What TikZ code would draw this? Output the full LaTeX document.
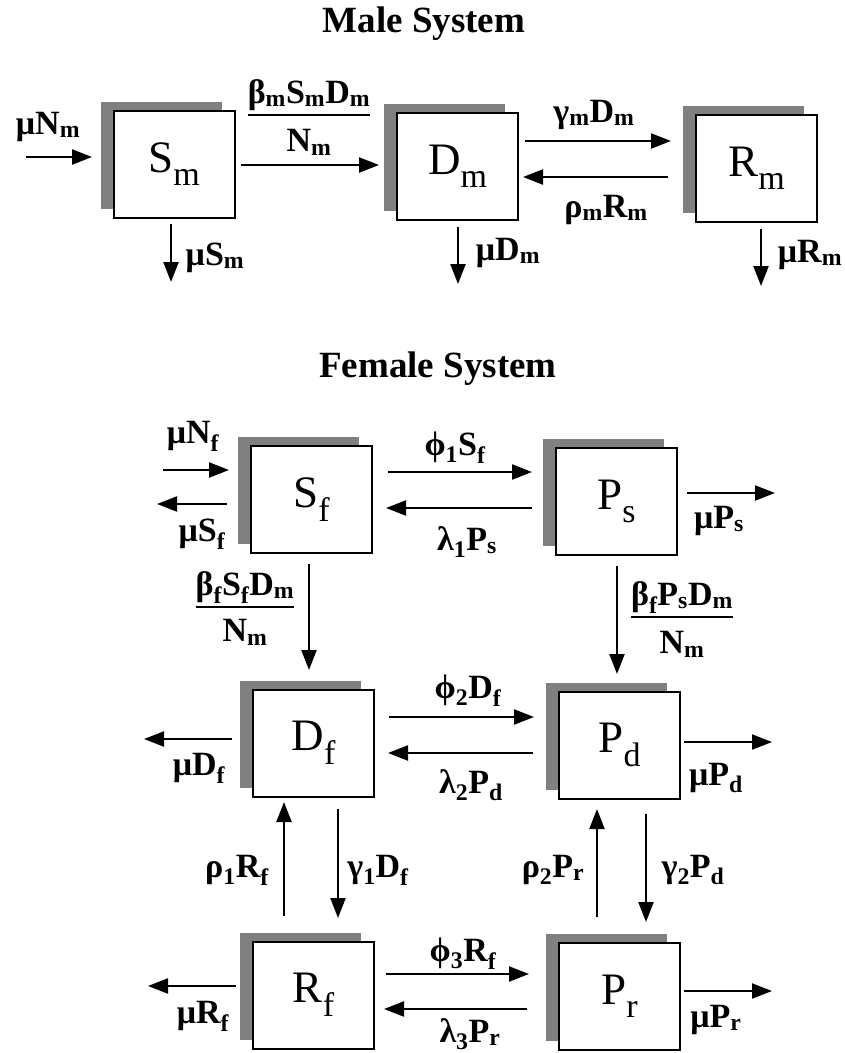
\documentclass[tikz,border=0pt]{standalone}
\usepackage{fontspec}
\setmainfont{Liberation Serif}
\usetikzlibrary{arrows.meta,shadows}
\setlength{\arrayrulewidth}{2pt}
\newcommand{\sbs}[1]{\textsubscript{#1}}
\newcommand{\cmp}[2]{#1\raisebox{-0.3em}{\fontsize{34}{36}\selectfont #2}}

\begin{document}
\begin{tikzpicture}[x=1pt,y=-1pt,
  compart/.style={draw,line width=2pt,fill=white,minimum width=121pt,
    minimum height=107pt,inner sep=0pt,font=\fontsize{45}{48}\selectfont,
    general shadow={fill=gray,shadow xshift=-13pt,shadow yshift=9pt}},
  rate/.style={inner sep=0pt,anchor=base,font=\fontsize{34}{36}\selectfont\bfseries},
  heading/.style={inner sep=0pt,anchor=base,font=\fontsize{37}{40}\selectfont\bfseries},
  flow/.style={line width=2.2pt,-{Triangle[length=20pt,width=15pt]}}]
  \useasboundingbox (0,0) rectangle (845,1053);

  \node[heading] (tMale) at (424,32) {Male System};
  \node[heading] (tFemale) at (438,377) {Female System};

  \node[compart] (Sm) at (174,164) {\cmp{S}{m}};
  \node[compart] (Dm) at (457.5,166.5) {\cmp{D}{m}};
  \node[compart] (Rm) at (756.5,168.5) {\cmp{R}{m}};

  \node[compart] (Sf) at (311.5,499.5) {\cmp{S}{f}};
  \node[compart] (Ps) at (616.5,501.5) {\cmp{P}{s}};
  \node[compart] (Df) at (313.5,743) {\cmp{D}{f}};
  \node[compart] (Pd) at (619.5,745) {\cmp{P}{d}};
  \node[compart] (Rf) at (313.5,995) {\cmp{R}{f}};
  \node[compart] (Pr) at (619.5,996.5) {\cmp{P}{r}};

  \coordinate (iNm) at (26,157);
  \coordinate (oSm) at (171,282);
  \coordinate (oDm) at (458,284);
  \coordinate (oRm) at (761,286);
  \draw[flow,shorten >=20.5pt] (iNm) -- (Sm.west |- iNm);
  \draw[flow,shorten <=5.5pt,shorten >=17pt] (Sm.east |- 0,165) -- (Dm.west |- 0,165);
  \draw[flow,shorten <=6pt,shorten >=24pt] (Dm.east |- 0,141) -- (Rm.west |- 0,141);
  \draw[flow,shorten <=27pt,shorten >=4pt] (Rm.west |- 0,177) -- (Dm.east |- 0,177);
  \draw[flow,shorten <=5.5pt] (Sm.south -| oSm) -- (oSm);
  \draw[flow,shorten <=6pt] (Dm.south -| oDm) -- (oDm);
  \draw[flow,shorten <=6pt] (Rm.south -| oRm) -- (oRm);

  \node[rate] (lNm) at (48,134) {μN\sbs{m}};
  \node[rate] (lbSm) at (309,103) {\begin{tabular}[t]{@{}c@{}}β\sbs{m}S\sbs{m}D\sbs{m}\\\hline\rule{0pt}{36pt}N\sbs{m}\end{tabular}};
  \node[rate] (lSm) at (215,265) {μS\sbs{m}};
  \node[rate] (lgDm) at (594,122) {γ\sbs{m}D\sbs{m}};
  \node[rate] (lrRm) at (606,217) {ρ\sbs{m}R\sbs{m}};
  \node[rate] (lDm) at (508,260) {μD\sbs{m}};
  \node[rate] (lRm) at (810,262) {μR\sbs{m}};

  \coordinate (iNf) at (163,470);
  \coordinate (oSf) at (157,504);
  \coordinate (oPs) at (775,493);
  \coordinate (oDf) at (144,739);
  \coordinate (oPd) at (772,742);
  \coordinate (oRf) at (148,986);
  \coordinate (oPr) at (772,991);
  \draw[flow,shorten >=21pt] (iNf) -- (Sf.west |- iNf);
  \draw[flow,shorten <=23pt] (Sf.west |- oSf) -- (oSf);
  \draw[flow,shorten <=10pt,shorten >=18.5pt] (Sf.south -| 309,0) -- (Df.north -| 309,0);
  \draw[flow,shorten <=15pt,shorten >=23pt] (Sf.east |- 0,472) -- (Ps.west |- 0,472);
  \draw[flow,shorten <=23pt,shorten >=13pt] (Ps.west |- 0,508) -- (Sf.east |- 0,508);
  \draw[flow,shorten <=9pt] (Ps.east |- oPs) -- (oPs);
  \draw[flow,shorten <=10pt,shorten >=16.5pt] (Ps.south -| 617,0) -- (Pd.north -| 617,0);
  \draw[flow,shorten <=14pt,shorten >=24pt] (Df.east |- 0,717) -- (Pd.west |- 0,717);
  \draw[flow,shorten <=25pt,shorten >=13pt] (Pd.west |- 0,753) -- (Df.east |- 0,753);
  \draw[flow,shorten <=20pt] (Df.west |- oDf) -- (oDf);
  \draw[flow,shorten <=3pt] (Pd.east |- oPd) -- (oPd);
  \draw[flow,shorten <=11.5pt,shorten >=22.5pt] (Df.south -| 338,0) -- (Rf.north -| 338,0);
  \draw[flow,shorten <=24.5pt,shorten >=4.5pt] (Rf.north -| 284,0) -- (Df.south -| 284,0);
  \draw[flow,shorten <=25pt,shorten >=9.5pt] (Pr.north -| 597,0) -- (Pd.south -| 597,0);
  \draw[flow,shorten <=14.5pt,shorten >=20pt] (Pd.south -| 646,0) -- (Pr.north -| 646,0);
  \draw[flow,shorten <=11pt,shorten >=29pt] (Rf.east |- 0,974) -- (Pr.west |- 0,974);
  \draw[flow,shorten <=31pt,shorten >=9pt] (Pr.west |- 0,1009) -- (Rf.east |- 0,1009);
  \draw[flow,shorten <=16pt] (Rf.west |- oRf) -- (oRf);
  \draw[flow,shorten <=3pt] (Pr.east |- oPr) -- (oPr);

  \node[rate] (lNf) at (193,443) {μN\sbs{f}};
  \node[rate] (lSf) at (202,541) {μS\sbs{f}};
  \node[rate] (lbSf) at (245,595) {\begin{tabular}[t]{@{}c@{}}β\sbs{f}S\sbs{f}D\sbs{m}\\\hline\rule{0pt}{34pt}N\sbs{m}\end{tabular}};
  \node[rate] (lpSf) at (455,455) {ϕ\sbs{1}S\sbs{f}};
  \node[rate] (llPs) at (467,550) {λ\sbs{1}P\sbs{s}};
  \node[rate] (lPs) at (719,528) {μP\sbs{s}};
  \node[rate] (lbPs) at (682,605) {\begin{tabular}[t]{@{}c@{}}β\sbs{f}P\sbs{s}D\sbs{m}\\\hline\rule{0pt}{36pt}N\sbs{m}\end{tabular}};
  \node[rate] (lpDf) at (468,698) {ϕ\sbs{2}D\sbs{f}};
  \node[rate] (llPd) at (471,793) {λ\sbs{2}P\sbs{d}};
  \node[rate] (lDf) at (199,775) {μD\sbs{f}};
  \node[rate] (lPd) at (716,785) {μP\sbs{d}};
  \node[rate] (lrRf) at (237,877) {ρ\sbs{1}R\sbs{f}};
  \node[rate] (lgDf) at (378,877) {γ\sbs{1}D\sbs{f}};
  \node[rate] (lrPr) at (553,877) {ρ\sbs{2}P\sbs{r}};
  \node[rate] (lgPd) at (693,877) {γ\sbs{2}P\sbs{d}};
  \node[rate] (lpRf) at (463,961) {ϕ\sbs{3}R\sbs{f}};
  \node[rate] (llPr) at (470,1042) {λ\sbs{3}P\sbs{r}};
  \node[rate] (lRf) at (203,1023) {μR\sbs{f}};
  \node[rate] (lPr) at (716,1027) {μP\sbs{r}};
\end{tikzpicture}
\end{document}
